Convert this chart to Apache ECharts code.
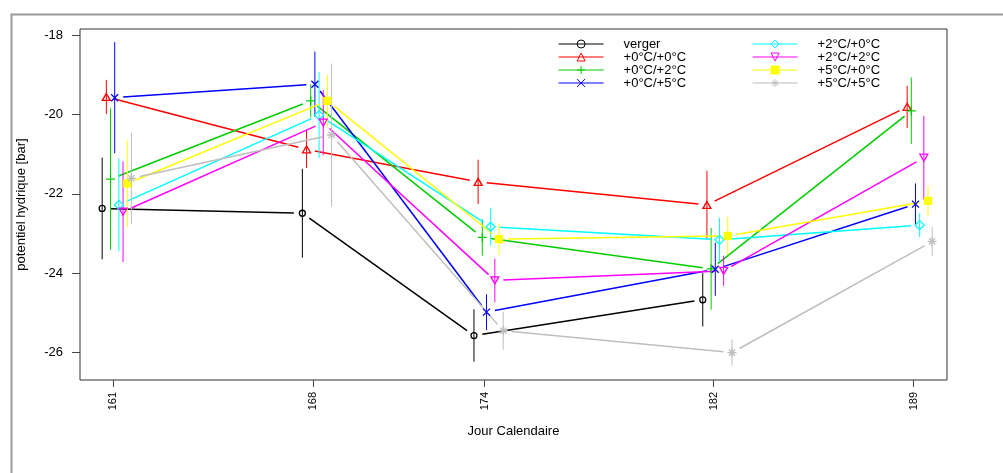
<!DOCTYPE html>
<html><head><meta charset="utf-8">
<script src="https://cdn.jsdelivr.net/npm/echarts@6/dist/echarts.min.js"></script>
<style>html,body{margin:0;padding:0;background:#fff}#c{width:1003px;height:473px}</style>
</head><body><div id="c"></div>
<script>
// ---- data ----
const days = [161, 168, 174, 182, 189];
const groupNames = ['verger', '+0°C/+0°C', '+0°C/+2°C', '+0°C/+5°C', '+2°C/+0°C', '+2°C/+2°C', '+5°C/+0°C', '+5°C/+5°C'];
const vergerMean = [-22.37, -22.49, -25.57, -24.67, null];
const vergerErr  = [1.28, 1.12, 0.66, 0.67, null];
const t00Mean = [-19.56, -20.88, -21.70, -22.28, -19.81];
const t00Err  = [0.43, 0.47, 0.56, 0.86, 0.53];
const t02Mean = [-21.63, -19.66, -23.10, -23.89, -19.91];
const t02Err  = [1.78, 0.42, 0.46, 1.03, 0.84];
const t05Mean = [-19.58, -19.24, -24.98, -23.90, -22.26];
const t05Err  = [1.40, 0.82, 0.45, 0.67, 0.52];
const t20Mean = [-22.28, -20.02, -22.83, -23.16, -22.79];
const t20Err  = [1.17, 1.08, 0.48, 0.55, 0.30];
const t22Mean = [-22.45, -20.21, -24.18, -23.94, -21.09];
const t22Err  = [1.27, 0.82, 0.55, 0.38, 1.05];
const t50Mean = [-21.74, -19.66, -23.14, -23.06, -22.18];
const t50Err  = [1.10, 0.65, 0.40, 0.48, 0.38];
const t55Mean = [-21.61, -20.52, -25.45, -26.00, -23.20];
const t55Err  = [1.15, 1.80, 0.48, 0.33, 0.36];
const yTicks = [-18, -20, -22, -24, -26];
const xTicks = days;

// ---- styles ----
const means = [vergerMean, t00Mean, t02Mean, t05Mean, t20Mean, t22Mean, t50Mean, t55Mean];
const errs  = [vergerErr, t00Err, t02Err, t05Err, t20Err, t22Err, t50Err, t55Err];
const colors = ['#000000', '#ff0000', '#00cd00', '#0000ff', '#00ffff', '#ff00ff', '#ffff00', '#bebebe'];
const symbols = [
  'circle',
  'path://M5 0 L10 8.66 L0 8.66 Z',
  'path://M5 0 L5 10 M0 5 L10 5',
  'path://M0 0 L10 10 M10 0 L0 10',
  'path://M5 0 L10 5 L5 10 L0 5 Z',
  'path://M0 0 L10 0 L5 8.66 Z',
  'rect',
  'path://M5 0 L5 10 M0 5 L10 5 M1.5 1.5 L8.5 8.5 M8.5 1.5 L1.5 8.5'
];
const symSizes = [6, [8, 7], 9, 7, 9, [8, 7], 7, 9];
const filled = [false, false, false, false, false, false, true, false];
const dodgeStart = -0.375, dodgeStep = 0.146;
const FONT = 'Liberation Sans, Arial, sans-serif';

const series = [];
for (let g = 0; g < groupNames.length; g++) {
  const pts = [];
  for (let i = 0; i < days.length; i++) {
    if (means[g][i] == null) continue;
    pts.push([days[i] + dodgeStart + dodgeStep * g, means[g][i], errs[g][i]]);
  }
  const col = colors[g];
  series.push({
    type: 'custom', name: groupNames[g] + ' bars', silent: true, animation: false,
    encode: { x: 0, y: 1 }, z: 2,
    data: pts,
    renderItem: function (params, api) {
      const i = params.dataIndex;
      const x = api.value(0), y = api.value(1), e = api.value(2);
      const top = api.coord([x, y + e]), bot = api.coord([x, y - e]);
      const children = [{ type: 'line', shape: { x1: top[0], y1: top[1], x2: bot[0], y2: bot[1] }, style: { stroke: col, lineWidth: 1 } }];
      if (i < pts.length - 1) {
        const a = api.coord([x, y]);
        const b = api.coord([pts[i + 1][0], pts[i + 1][1]]);
        const dx = b[0] - a[0], dy = b[1] - a[1], L = Math.hypot(dx, dy), gap = 8.5;
        if (L > 2 * gap) {
          const ux = dx / L, uy = dy / L;
          children.push({ type: 'line', shape: { x1: a[0] + ux * gap, y1: a[1] + uy * gap, x2: b[0] - ux * gap, y2: b[1] - uy * gap }, style: { stroke: col, lineWidth: 1.5 } });
        }
      }
      return { type: 'group', children: children };
    }
  });
  series.push({
    type: 'line', name: groupNames[g], silent: true, animation: false, z: 3,
    data: pts.map(p => [p[0], p[1]]),
    symbol: symbols[g], symbolSize: symSizes[g], showSymbol: true,
    lineStyle: { opacity: 0, width: 0, color: col },
    itemStyle: { color: filled[g] ? col : 'rgba(0,0,0,0)', borderColor: col, borderWidth: 1.3 },
    emphasis: { disabled: true }
  });
}

function legendItems(from, to) {
  const out = [];
  for (let g = from; g < to; g++) {
    out.push({
      name: groupNames[g],
      itemStyle: { color: filled[g] ? colors[g] : 'rgba(0,0,0,0)', borderColor: colors[g], borderWidth: 1 },
      lineStyle: { color: colors[g], width: 1.2, opacity: 1 }
    });
  }
  return out;
}
const legendCommon = {
  orient: 'vertical', top: 37.5, padding: 0, itemWidth: 45, itemHeight: 10, itemGap: 0,
  selectedMode: false,
  formatter: function (name) { return '{s| }' + name; },
  textStyle: { fontSize: 13, fontFamily: FONT, color: '#000', rich: { s: { width: 15, fontSize: 13 } } }
};

const chart = echarts.init(document.getElementById('c'), null, { renderer: 'canvas' });
chart.setOption({
  animation: false,
  backgroundColor: '#fff',
  graphic: [{ type: 'rect', left: 9, top: 12, shape: { width: 1100, height: 600 }, style: { fill: 'none', stroke: '#9a9a9a', lineWidth: 2 }, silent: true }],
  grid: { left: 80, right: 56, top: 29, bottom: 93, show: true, borderColor: '#333', borderWidth: 1, backgroundColor: 'transparent' },
  legend: [
    Object.assign({}, legendCommon, { left: 558, data: legendItems(0, 4) }),
    Object.assign({}, legendCommon, { left: 752, data: legendItems(4, 8) })
  ],
  xAxis: {
    type: 'value', min: 159.85, max: 190.165,
    name: 'Jour Calendaire', nameLocation: 'middle', nameGap: 45,
    nameTextStyle: { fontSize: 13, fontFamily: FONT, color: '#000' },
    axisLine: { show: false },
    axisTick: { show: true, length: 7, customValues: xTicks, lineStyle: { color: '#444' } },
    axisLabel: { customValues: xTicks, rotate: 90, margin: 12, fontSize: 11, fontFamily: FONT, color: '#000' },
    splitLine: { show: false }
  },
  yAxis: {
    type: 'value', min: -26.69, max: -17.85,
    name: 'potentiel hydrique [bar]', nameLocation: 'middle', nameGap: 52, nameRotate: 90,
    nameTextStyle: { fontSize: 13, fontFamily: FONT, color: '#000' },
    axisLine: { show: false },
    axisTick: { show: true, length: 8, customValues: yTicks, lineStyle: { color: '#444' } },
    axisLabel: { customValues: yTicks, margin: 17, fontSize: 13, fontFamily: FONT, color: '#000' },
    splitLine: { show: false }
  },
  series: series
});
</script>
</body></html>
